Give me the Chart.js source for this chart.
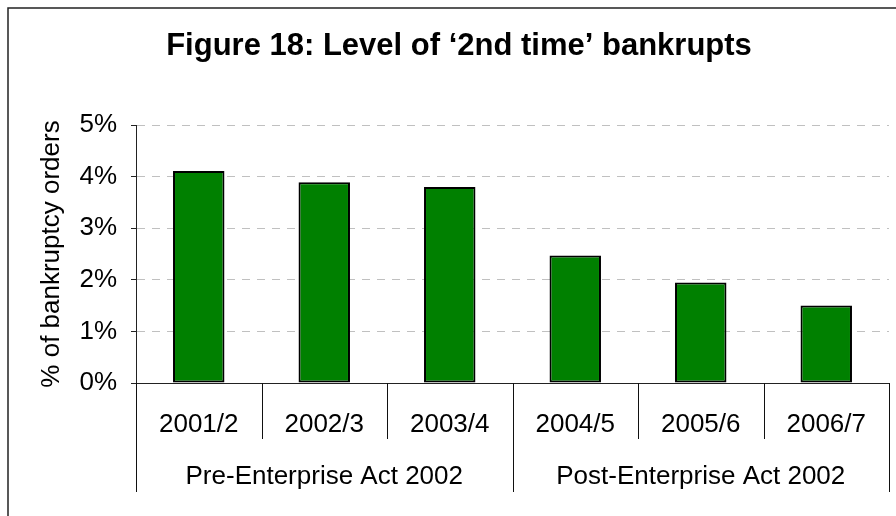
<!DOCTYPE html>
<html>
<head>
<meta charset="utf-8">
<script src="https://cdn.jsdelivr.net/npm/chart.js@4/dist/chart.umd.min.js"></script>
<style>
  html, body { margin: 0; padding: 0; background: #fff; }
  canvas { display: block; }
</style>
</head>
<body>
<canvas id="bankruptsChart" width="896" height="516"></canvas>
<script>
// Share of bankruptcy orders made against people bankrupt before
const periods = ['2001/2', '2002/3', '2003/4', '2004/5', '2005/6', '2006/7'];
const secondTimeShare = [4.11, 3.89, 3.80, 2.47, 1.95, 1.50];

// Outer category row: each group covers this many periods
const actGroups = ['Pre-Enterprise Act 2002', 'Post-Enterprise Act 2002'];
const groupSizes = [3, 3];

const chartTitle = 'Figure 18: Level of \u20182nd time\u2019 bankrupts';
const FONT = '"Liberation Sans", Arial, sans-serif';

// Frame round the whole figure, plus the heading
const framePlugin = {
    id: 'frame',
    beforeDraw(chart) {
        const ctx = chart.ctx;
        ctx.save();
        ctx.strokeStyle = '#222';
        ctx.lineWidth = 1.5;
        ctx.strokeRect(8, 8, chart.width + 20, chart.height + 20);

        ctx.font = 'bold 31px ' + FONT;
        ctx.fillStyle = '#000';
        ctx.textAlign = 'center';
        ctx.textBaseline = 'middle';
        ctx.fillText(chartTitle, 459, 46);
        ctx.restore();
    }
};

// Divider lines under the axis and the group labels
const groupAxisPlugin = {
    id: 'groupAxis',
    afterDraw(chart) {
        const ctx = chart.ctx;
        const x = chart.scales.x;
        const base = chart.chartArea.bottom;
        ctx.save();
        ctx.strokeStyle = '#111';
        ctx.lineWidth = 1;

        // short dividers between the periods
        for (let i = 0; i <= periods.length; i++) {
            const px = Math.round(x.getPixelForValue(i - 0.5)) + 0.5;
            ctx.beginPath();
            ctx.moveTo(px, base);
            ctx.lineTo(px, base + 56);
            ctx.stroke();
        }

        // long dividers and labels for the groups
        let start = 0;
        ctx.font = '26px ' + FONT;
        ctx.fillStyle = '#000';
        ctx.textAlign = 'center';
        ctx.textBaseline = 'middle';
        groupSizes.forEach((size, g) => {
            const left = x.getPixelForValue(start - 0.5);
            const right = x.getPixelForValue(start + size - 0.5);
            [left, right].forEach(edge => {
                const px = Math.round(edge) + 0.5;
                ctx.beginPath();
                ctx.moveTo(px, base);
                ctx.lineTo(px, base + 109);
                ctx.stroke();
            });
            ctx.fillText(actGroups[g], (left + right) / 2, base + 94);
            start += size;
        });
        ctx.restore();
    }
};

new Chart(document.getElementById('bankruptsChart'), {
    type: 'bar',
    data: {
        labels: periods,
        datasets: [{
            data: secondTimeShare,
            backgroundColor: '#008000',
            borderColor: '#000',
            borderWidth: 2,
            borderSkipped: false,
            barPercentage: 0.41,
            categoryPercentage: 1
        }]
    },
    options: {
        responsive: false,
        animation: false,
        layout: { padding: { left: 0, right: 7, top: 125, bottom: 0 } },
        plugins: {
            legend: { display: false },
            tooltip: { enabled: false },
            title: { display: false }
        },
        scales: {
            x: {
                grid: { display: false },
                border: { display: true, color: '#222', width: 1 },
                ticks: {
                    color: '#000',
                    font: { family: FONT, size: 26 },
                    padding: 18,
                    maxRotation: 0,
                    autoSkip: false
                },
                afterFit(scale) { scale.height = 133; }
            },
            y: {
                min: 0,
                max: 5,
                grid: {
                    color: '#c0c0c0',
                    lineWidth: 1,
                    tickLength: 5,
                    tickColor: '#222',
                    tickBorderDash: []
                },
                border: { display: true, color: '#222', width: 1, dash: [8, 7] },
                ticks: {
                    stepSize: 1,
                    color: '#000',
                    padding: 14,
                    font: { family: FONT, size: 26 },
                    callback: v => v + '%'
                },
                title: {
                    display: true,
                    text: '% of bankruptcy orders',
                    color: '#000',
                    font: { family: FONT, size: 26 },
                    padding: { top: 36, bottom: 0 }
                },
                afterFit(scale) { scale.width = 136; }
            }
        }
    },
    plugins: [framePlugin, groupAxisPlugin]
});
</script>
</body>
</html>
